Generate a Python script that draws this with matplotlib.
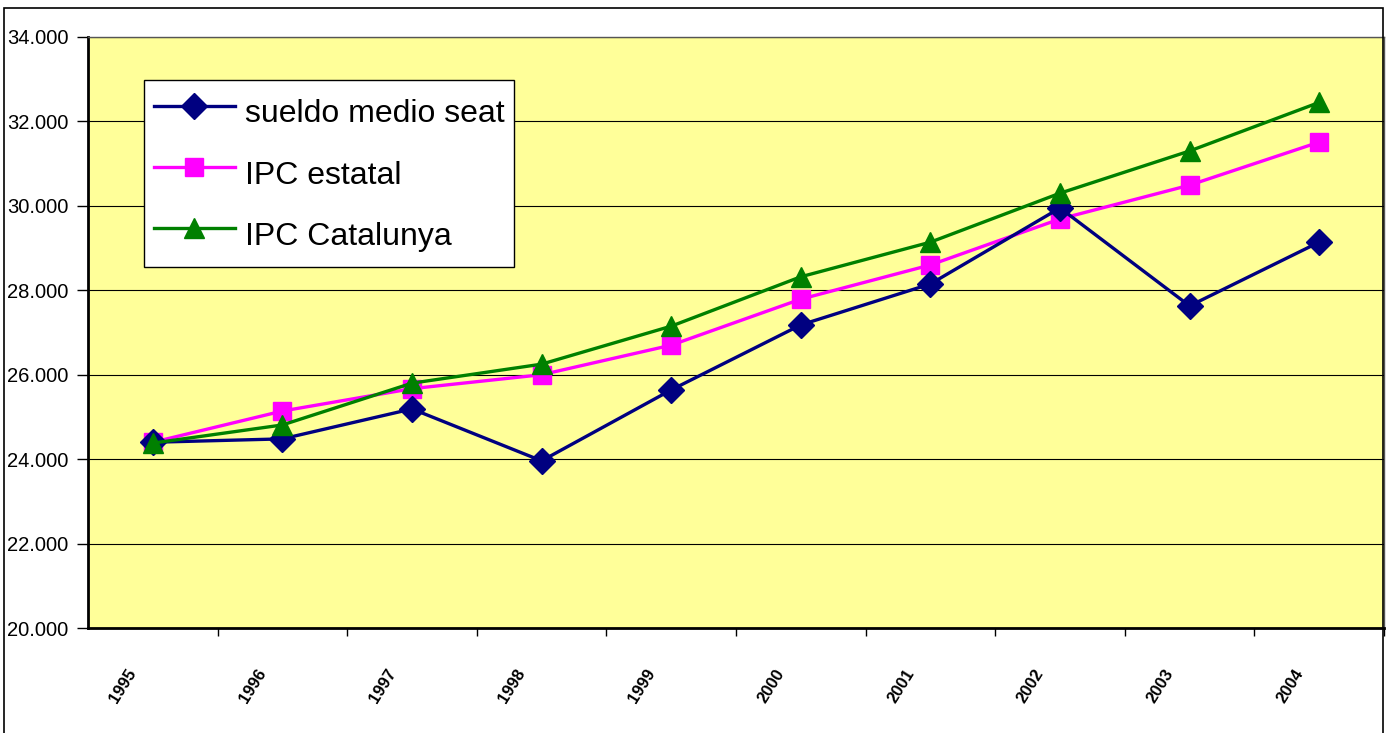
import matplotlib
matplotlib.use("Agg")
import matplotlib.pyplot as plt
from matplotlib.patches import Rectangle
from matplotlib.ticker import FuncFormatter, FixedLocator, NullFormatter

years = ["1995", "1996", "1997", "1998", "1999", "2000", "2001", "2002", "2003", "2004"]
sueldo = [24400, 24480, 25190, 23960, 25640, 27180, 28150, 29950, 27630, 29140]
ipc_estatal = [24400, 25140, 25670, 26000, 26700, 27790, 28600, 29690, 30490, 31510]
ipc_cat = [24380, 24810, 25800, 26250, 27150, 28320, 29140, 30300, 31300, 32450]

plt.rcParams['font.family'] = ['Liberation Sans', 'DejaVu Sans']

W, H = 1387, 733
fig = plt.figure(figsize=(W/100, H/100), dpi=100)
fig.patch.set_facecolor('white')
ax = fig.add_axes([88/W, 1 - 628/H, (1384-88)/W, (628-37)/H])
ax.set_facecolor('#FFFF99')

x = list(range(len(years)))
ax.plot(x, sueldo, color='#000080', lw=2.4, marker='D', ms=13, mfc='#000080', mec='#000080',
        label='sueldo medio seat', zorder=5)
ax.plot(x, ipc_estatal, color='#FF00FF', lw=2.4, marker='s', ms=13, mfc='#FF00FF', mec='#FF00FF',
        label='IPC estatal', zorder=4)
ax.plot(x, ipc_cat, color='#008000', lw=2.4, marker='^', ms=15, mfc='#008000', mec='#008000',
        label='IPC Catalunya', zorder=6)

ax.set_xlim(-0.5, len(years) - 0.5)
ax.set_ylim(20000, 34000)
ax.set_yticks(range(20000, 34001, 2000))
ax.yaxis.set_major_formatter(FuncFormatter(lambda v, p: f"{int(v)//1000}.{int(v)%1000:03d}"))
ax.yaxis.grid(True, color='black', lw=0.8)
ax.set_axisbelow(True)
ax.tick_params(axis='y', labelsize=14.5, length=8, width=1, direction='out', pad=6)

ax.xaxis.set_major_locator(FixedLocator([i + 0.5 for i in range(len(years))]))
ax.xaxis.set_major_formatter(NullFormatter())
ax.tick_params(axis='x', length=6, width=1, direction='out')
for i, yr in enumerate(years):
    ax.text(i - 0.2, -0.065, yr, transform=ax.get_xaxis_transform(), rotation=58,
            ha='right', va='top', rotation_mode='anchor', fontsize=12, fontweight='bold')

for s in ['left', 'bottom']:
    ax.spines[s].set_linewidth(2)
for s in ['top', 'right']:
    ax.spines[s].set_linewidth(1)
    ax.spines[s].set_color('#555555')

leg = ax.legend(loc='upper left', bbox_to_anchor=((144-88)/1296, 1 - (80-37)/591),
                prop={'family': 'Liberation Sans', 'size': 23}, frameon=True, fancybox=False,
                edgecolor='black', framealpha=1, facecolor='white',
                handlelength=2.55, handleheight=1.8, handletextpad=0.3, borderpad=0.3,
                labelspacing=0.5, borderaxespad=0)
leg.get_frame().set_linewidth(1)

fig.add_artist(Rectangle((4/W, -0.01), (1383-4)/W, 1 - 8/H + 0.01, transform=fig.transFigure,
                         fill=False, edgecolor='black', lw=1.2))

fig.savefig("out.png", dpi=100)
